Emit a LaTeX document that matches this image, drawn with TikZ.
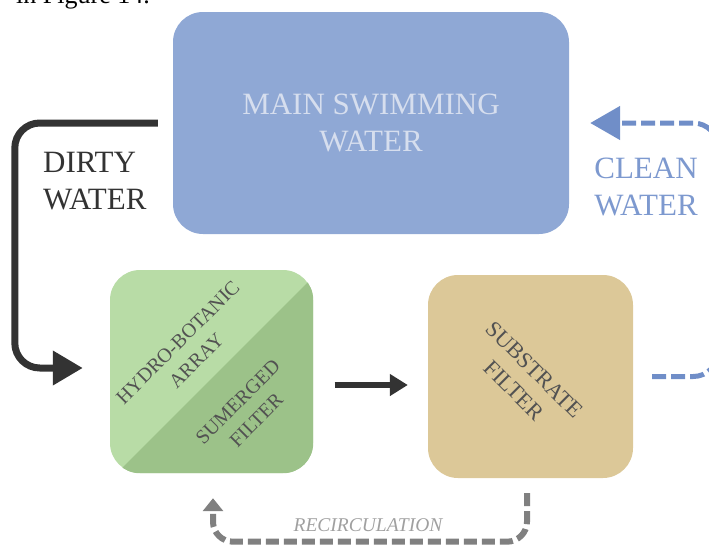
\documentclass[tikz,border=0pt]{standalone}
\usepackage{fontspec}
\setmainfont{Liberation Serif}
\usetikzlibrary{arrows.meta,positioning,calc}
\definecolor{swimblue}{RGB}{143,168,213}
\definecolor{swimtext}{RGB}{214,222,238}
\definecolor{hbalight}{RGB}{184,220,166}
\definecolor{hbadark}{RGB}{156,194,137}
\definecolor{subsand}{RGB}{220,200,152}
\definecolor{labelgray}{RGB}{82,82,82}
\definecolor{dirtygray}{RGB}{51,51,51}
\definecolor{cleanblue}{RGB}{112,142,200}
\definecolor{cleantext}{RGB}{125,153,207}
\definecolor{recircgray}{RGB}{128,128,128}
\definecolor{recirctext}{RGB}{160,160,160}

\begin{document}
\begin{tikzpicture}[x=1pt, y=-1pt, node distance=319pt]
	\tikzstyle{box} = [rounded corners=30pt, inner sep=0pt, align=center]
	\tikzstyle{diag} = [inner sep=0pt, align=center, text=labelgray, font=\fontsize{20pt}{26pt}\selectfont]
	\tikzstyle{side} = [inner sep=0pt, font=\fontsize{31pt}{37pt}\selectfont]
	\useasboundingbox (0,0) rectangle (709,547);
	\clip (0,0) rectangle (709,547);
	% caption line cut by the top edge
	\node[anchor=base east, inner sep=0pt, font=\fontsize{26pt}{30pt}\selectfont] (cap) at (150,3.5) {in Figure 14.};
	\path
	  node[box, fill=swimblue, minimum width=396pt, minimum height=222pt,
	       text=swimtext, font=\fontsize{31pt}{37pt}\selectfont] (main) at (371,123) {MAIN SWIMMING\\WATER}
	  node[box, fill=hbalight, minimum width=203pt, minimum height=203pt] (hba) at (211.5,371.5) {}
	  node[box, fill=subsand, minimum width=205pt, minimum height=203pt, right of=hba, yshift=-5pt] (sub) {}
	  ;
	\begin{scope}
	  \clip[rounded corners=30pt] (hba.south west) rectangle (hba.north east);
	  \fill[hbadark] ($(hba.south west)+(7,0)$) -- ($(hba.north east)+(0,7)$) -- (hba.south east) -- cycle;
	\end{scope}
	\node[diag, rotate=45] (hbatop) at ($(hba)+(-24.5,-20)$) {HYDRO-BOTANIC\\ARRAY};
	\node[diag, rotate=45] (hbabot) at ($(hba)+(35.5,39.5)$) {SUMERGED\\FILTER};
	\node[diag, rotate=-45, font=\fontsize{22.5pt}{29pt}\selectfont] (subtxt) at ($(sub)+(-6,3.5)$) {SUBSTRATE\\FILTER};
	% flows
	\node[side, text=dirtygray, align=left, anchor=west] (dirty) at (43,181.5) {DIRTY\\WATER};
	\node[side, text=cleantext, align=center] (clean) at (646,186.5) {CLEAN\\WATER};
	\node[inner sep=0pt, text=recirctext, font=\fontsize{19.5pt}{22pt}\selectfont\itshape] (recirc) at (368,525.5) {RECIRCULATION};
	\coordinate (dstart) at ($(main.west)+(-15,0)$);
	\coordinate (dend) at ($(hba.west)+(-27,-3.5)$);
	\coordinate (cstart) at ($(sub.east)+(19,0)$);
	\coordinate (cend) at ($(main.east)+(21,0)$);
	\coordinate (rstart) at ($(sub.south)+(-3.5,15)$);
	\coordinate (rend) at ($(hba.south)+(1.5,25)$);
	\coordinate (mstart) at ($(hba.east)+(21.5,13.5)$);
	\coordinate (mend) at ($(sub.west)+(-20,8.5)$);
	\draw[dirtygray, line width=7pt, rounded corners=25pt, -{Triangle[length=30pt, width=33pt]}]
	  (dstart) -- ++(-143,0) |- (dend);
	\path[dirtygray, line width=6pt, -{Triangle[length=18pt, width=21pt]}]
	  (mstart) edge (mend);
	\draw[cleanblue, line width=5pt, dash pattern=on 14pt off 5pt, rounded corners=25pt, -{Triangle[length=30pt, width=33pt]}]
	  (cstart) -- ++(66,0) |- (cend);
	\draw[recircgray, line width=6pt, dash pattern=on 13pt off 5pt, rounded corners=20pt, -{Triangle[length=13pt, width=20pt]}]
	  (rstart) -- ++(0,48.5) -| (rend);
\end{tikzpicture}
\end{document}
